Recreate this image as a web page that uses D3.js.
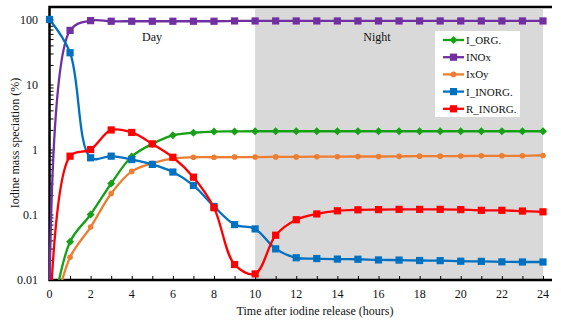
<!DOCTYPE html>
<html>
<head>
<meta charset="utf-8">
<script src="https://cdn.jsdelivr.net/npm/d3@7"></script>
<style>
  body { margin: 0; background: #fff; }
</style>
</head>
<body>
<div id="chart"></div>
<script>
// Hours after release (x categories)
const hours = [0,1,2,3,4,5,6,7,8,9,10,11,12,13,14,15,16,17,18,19,20,21,22,23,24];

// Series values (% of iodine mass)
const iOrg   = [0.0017,0.038,0.10,0.30,0.78,1.22,1.65,1.81,1.89,1.90,1.91,1.91,1.91,1.91,1.91,1.91,1.91,1.91,1.91,1.91,1.91,1.91,1.91,1.91,1.91];
const inox   = [0.002,68,96,94,94,94,94,94,94,95,95,95,95,95,95,95,95,95,95,95,95,95,95,95,95];
const ixoy   = [0.0016,0.022,0.064,0.21,0.46,0.615,0.73,0.76,0.76,0.765,0.765,0.77,0.77,0.775,0.775,0.78,0.78,0.785,0.79,0.79,0.795,0.80,0.80,0.80,0.81];
const iInorg = [100,30.8,0.745,0.79,0.70,0.59,0.45,0.28,0.133,0.070,0.060,0.0296,0.0216,0.021,0.0206,0.0205,0.0200,0.0199,0.0196,0.0195,0.0191,0.019,0.0187,0.0186,0.0186];
const rInorg = [0.0015,0.79,1.0,2.0,1.83,1.22,0.76,0.375,0.127,0.017,0.0122,0.048,0.083,0.102,0.114,0.118,0.119,0.12,0.12,0.12,0.119,0.116,0.116,0.113,0.11];

// Tick labels
const yTicks = [0.01, 0.1, 1, 10, 100];
const yTickLabels = ["0.01", "0.1", "1", "10", "100"];
const xTickLabels = [0,2,4,6,8,10,12,14,16,18,20,22,24];

const series = [
  {name: "I_ORG.",   values: iOrg,   color: "#17a017", shape: "diamond"},
  {name: "INOx",     values: inox,   color: "#7030a0", shape: "square"},
  {name: "IxOy",     values: ixoy,   color: "#ed7d31", shape: "circle"},
  {name: "I_INORG.", values: iInorg, color: "#0070c0", shape: "square"},
  {name: "R_INORG.", values: rInorg, color: "#ff0000", shape: "square"}
];

const svgWidth = 561, svgHeight = 323;
const svg = d3.select("#chart").append("svg")
  .attr("width", svgWidth)
  .attr("height", svgHeight)
  .attr("font-family", "'Liberation Serif', 'Times New Roman', serif");

const plotLeft = 49.5, plotRight = 543, plotBottom = 280, plotTop = 7;

const x = d3.scaleLinear().domain([0, 24]).range([plotLeft, plotRight]);
const y = d3.scaleLog().domain([0.01, 100]).range([279.5, 19.5]);

// Night shading
svg.append("rect")
  .attr("x", x(10)).attr("y", plotTop + 2)
  .attr("width", x(24) - x(10)).attr("height", plotBottom - plotTop - 2)
  .attr("fill", "#d9d9d9");

// clip so the curves starting below 0.01 vanish under the axis
svg.append("defs").append("clipPath").attr("id", "clip")
  .append("rect").attr("x", 0).attr("y", 0).attr("width", svgWidth).attr("height", plotBottom);

// Axes
const xAxis = svg.append("g")
  .attr("transform", "translate(0," + plotBottom + ")")
  .call(d3.axisBottom(x).tickValues(hours).tickSizeInner(-4).tickSizeOuter(0).tickFormat(""));
xAxis.select(".domain").remove();
xAxis.selectAll(".tick line").attr("stroke", "#000");

const xLabels = svg.append("g");
xLabels.selectAll("text").data(xTickLabels).enter().append("text")
  .attr("x", d => x(d)).attr("y", 298)
  .attr("text-anchor", "middle")
  .attr("font-size", 12)
  .attr("fill", "#111")
  .text(d => d);

const minorY = [];
yTicks.forEach((t, i) => { if (i < yTicks.length - 1) for (let k = 1; k < 10; k++) minorY.push(t * k); });
minorY.push(100);

const yAxis = svg.append("g")
  .attr("transform", "translate(" + plotLeft + ",0)")
  .call(d3.axisLeft(y).tickValues(minorY).tickSizeInner(-4).tickSizeOuter(0).tickFormat(""));
yAxis.select(".domain").remove();
yAxis.selectAll(".tick line").attr("stroke", "#000");

svg.append("g").selectAll("text").data(yTicks).enter().append("text")
  .attr("x", 38).attr("y", d => y(d) + 4)
  .attr("text-anchor", "end")
  .attr("font-size", 12)
  .attr("fill", "#111")
  .text((d, i) => yTickLabels[i]);

// Frame: left, bottom, top
svg.append("path")
  .attr("d", "M552," + plotTop + "H" + plotLeft + "V" + plotBottom + "H552")
  .attr("fill", "none").attr("stroke", "#000").attr("stroke-width", 2.5);

// Lines and markers
const line = d3.line()
  .x((d, i) => x(hours[i]))
  .y(d => y(d))
  .curve(d3.curveCatmullRom.alpha(0.5));

const plot = svg.append("g").attr("clip-path", "url(#clip)");

function marker(sel, shape, color) {
  if (shape === "square") {
    sel.append("rect").attr("x", -3.6).attr("y", -3.6).attr("width", 7.2).attr("height", 7.2).attr("fill", color);
  } else if (shape === "diamond") {
    sel.append("path").attr("d", "M0,-4L4,0L0,4L-4,0Z").attr("fill", color);
  } else {
    sel.append("circle").attr("r", 2.8).attr("fill", color);
  }
}

series.forEach(s => {
  plot.append("path")
    .attr("d", line(s.values))
    .attr("fill", "none")
    .attr("stroke", s.color)
    .attr("stroke-width", 2.3);
  plot.selectAll(null).data(s.values).enter().append("g")
    .attr("transform", (d, i) => "translate(" + x(hours[i]) + "," + y(d) + ")")
    .each(function() { marker(d3.select(this), s.shape, s.color); });
});

// Day / Night
svg.append("text").attr("x", 152).attr("y", 41).attr("text-anchor", "middle").attr("font-size", 12).attr("fill", "#111").text("Day");
svg.append("text").attr("x", 377).attr("y", 41).attr("text-anchor", "middle").attr("font-size", 12).attr("fill", "#111").text("Night");

// Legend
const legend = svg.append("g");
legend.append("rect").attr("x", 435).attr("y", 31).attr("width", 85).attr("height", 86).attr("fill", "#fff");
series.forEach((s, i) => {
  const ly = 40 + i * 17.2;
  const g = legend.append("g");
  g.append("line").attr("x1", 443).attr("x2", 464).attr("y1", ly).attr("y2", ly)
    .attr("stroke", s.color).attr("stroke-width", 2.3);
  const m = g.append("g").attr("transform", "translate(453.5," + ly + ")");
  marker(m, s.shape, s.color);
  g.append("text").attr("x", 466).attr("y", ly + 4).attr("font-size", 11).attr("fill", "#111").text(s.name);
});

// Axis titles
svg.append("text")
  .attr("x", 315).attr("y", 315)
  .attr("text-anchor", "middle")
  .attr("font-size", 12)
  .attr("fill", "#111")
  .text("Time after iodine release  (hours)");

svg.append("text")
  .attr("transform", "translate(19,143) rotate(-90)")
  .attr("text-anchor", "middle")
  .attr("font-size", 12)
  .attr("fill", "#111")
  .text("Iodine mass speciation (%)");
</script>
</body>
</html>
